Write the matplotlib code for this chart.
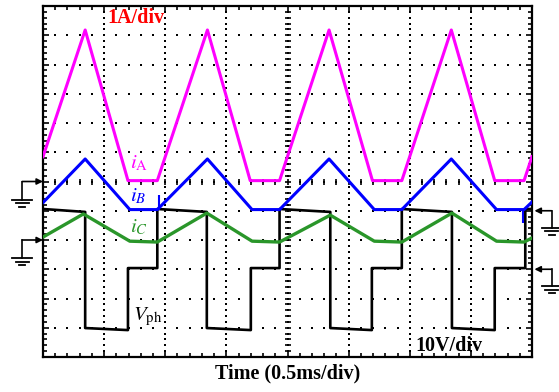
import numpy as np
import matplotlib
matplotlib.use("Agg")
import matplotlib.pyplot as plt

# === SCOPE TRACES (units: divisions; x 0..8, y 0..12) ===
ia_t = [0.00, 0.69, 1.39, 1.87, 2.69, 3.39, 3.87, 4.68, 5.39, 5.87, 6.68, 7.39, 7.87, 8.00]
ia_v = [6.85, 11.18, 6.03, 6.03, 11.18, 6.03, 6.03, 11.18, 6.03, 6.03, 11.18, 6.03, 6.03, 6.85]

ib_t = [0.00, 0.69, 1.42, 1.87, 2.69, 3.42, 3.87, 4.68, 5.42, 5.87, 6.68, 7.42, 7.87, 8.00]
ib_v = [5.28, 6.77, 5.04, 5.04, 6.77, 5.04, 5.04, 6.77, 5.04, 5.04, 6.77, 5.04, 5.04, 5.30]
ib_spike_t = [1.90, 7.85]
ib_spike_lo = [5.04, 4.58]
ib_spike_hi = [5.54, 5.04]

ic_t = [0.00, 0.66, 1.42, 1.87, 2.68, 3.42, 3.87, 4.70, 5.42, 5.87, 6.69, 7.42, 7.87, 8.00]
ic_v = [4.10, 4.89, 3.96, 3.93, 4.92, 3.96, 3.93, 4.85, 3.96, 3.93, 4.92, 3.96, 3.93, 4.07]

vph_t = [0.00, 0.69, 0.69, 1.39, 1.39, 1.87, 1.87, 2.68, 2.68, 3.40, 3.40, 3.87, 3.87,
         4.70, 4.70, 5.38, 5.38, 5.87, 5.87, 6.69, 6.69, 7.39, 7.39, 7.89, 7.89, 8.00]
vph_v = [5.06, 4.96, 0.99, 0.92, 3.04, 3.04, 5.06, 4.96, 0.99, 0.92, 3.04, 3.04, 5.06,
         4.96, 0.99, 0.92, 3.04, 3.04, 5.06, 4.96, 0.99, 0.92, 3.04, 3.04, 5.06, 5.06]

# ground reference markers
left_gnd = [6.0, 4.0]
right_gnd = [5.0, 3.0]

MAGENTA = '#ff00ff'
BLUE = '#0000ff'
GREEN = '#2a962a'
SERIF = ['Liberation Serif', 'DejaVu Serif']

plt.rcParams['mathtext.fontset'] = 'stix'

fig = plt.figure(figsize=(5.59, 3.92), dpi=100)
ax = fig.add_axes([43 / 559, 1 - 357 / 392, 489 / 559, 351 / 392])
ax.set_xlim(0, 8)
ax.set_ylim(0, 12)

# === GRID (dotted) ===
gx = np.arange(0, 8.001, 0.2)
gy = np.arange(0, 12.001, 0.2)
for yy in range(1, 12):
    ax.plot(gx, np.full_like(gx, yy), 's', color='black', ms=1.9, mew=0, zorder=1)
for xx in range(1, 8):
    ax.plot(np.full_like(gy, xx), gy, 's', color='black', ms=1.9, mew=0, zorder=1)
# center axes ticks
ax.plot(gx, np.full_like(gx, 6), '|', color='black', ms=5, mew=1.2, zorder=1)
ax.plot(np.full_like(gy, 4), gy, '_', color='black', ms=5, mew=1.2, zorder=1)

# === TRACES ===
ax.plot(vph_t, vph_v, color='black', lw=1.9, zorder=3)
ax.plot(ic_t, ic_v, color=GREEN, lw=2.4, zorder=4)
ax.plot(ib_t, ib_v, color=BLUE, lw=2.2, zorder=5)
ax.vlines(ib_spike_t, ib_spike_lo, ib_spike_hi, color=BLUE, lw=1.5, zorder=5)
ax.plot(ia_t, ia_v, color=MAGENTA, lw=2.2, zorder=6)

# === LABELS ===
ax.text(1.52, 11.42, '1A/div', color='red', fontsize=14.5, fontweight='bold',
        family=SERIF, ha='center', va='baseline')
ax.text(6.64, 0.2, '10V/div', color='black', fontsize=14.5, fontweight='bold',
        family=SERIF, ha='center', va='baseline')
ax.text(1.43, 6.46, r'$i_{\mathrm{A}}$', color=MAGENTA, fontsize=15, va='baseline')
ax.text(1.43, 5.32, r'$i_B$', color=BLUE, fontsize=15, va='baseline')
ax.text(1.43, 4.26, r'$i_C$', color=GREEN, fontsize=15, va='baseline')
ax.text(1.47, 1.26, r'$V_{\mathrm{ph}}$', color='black', fontsize=15, va='baseline')
ax.set_xlabel('Time (0.5ms/div)', fontsize=14.5, fontweight='bold', family=SERIF, labelpad=5)

# === GROUND MARKERS ===
def gnd(x_tip, y, x_post, drop):
    ax.annotate('', xy=(x_tip, y), xytext=(x_post, y), annotation_clip=False,
                arrowprops=dict(arrowstyle='-|>', color='black', lw=1.2,
                                mutation_scale=9, shrinkA=0, shrinkB=0))
    ax.plot([x_post, x_post], [y, y - drop], color='black', lw=1.2, clip_on=False)
    for k, w in enumerate([0.16, 0.105, 0.05]):
        yy = y - drop - k * 0.12
        ax.plot([x_post - w, x_post + w], [yy, yy], color='black', lw=1.3, clip_on=False)

for g in left_gnd:
    gnd(0.0, g, -0.34, 0.62)
for g in right_gnd:
    gnd(8.04, g, 8.32, 0.58)

# === FRAME / TICKS ===
for s in ax.spines.values():
    s.set_linewidth(1.6)
ax.set_xticks(np.arange(0, 9, 1))
ax.set_yticks(np.arange(0, 13, 1))
ax.set_xticks(gx, minor=True)
ax.set_yticks(gy, minor=True)
ax.tick_params(which='both', direction='in', top=True, right=True,
               labelbottom=False, labelleft=False, width=1.2)
ax.tick_params(which='major', length=4)
ax.tick_params(which='minor', length=3)

fig.savefig('out.png', dpi=100)
